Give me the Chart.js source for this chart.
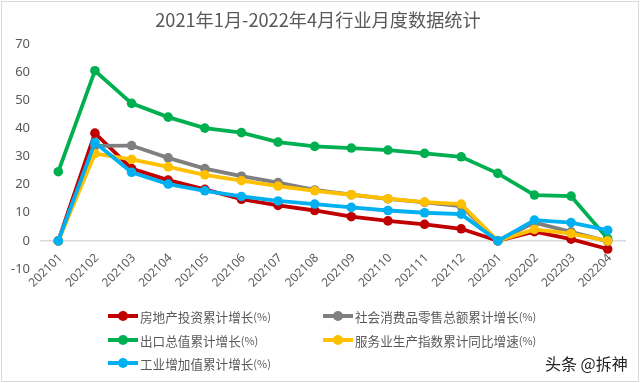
<!DOCTYPE html>
<html>
<head>
<meta charset="utf-8">
<script src="https://cdn.jsdelivr.net/npm/chart.js@4/dist/chart.umd.min.js"></script>
<style>
  html, body { margin: 0; padding: 0; background: #fff; }
  #wrap { position: relative; width: 640px; height: 383px; background: #fff; overflow: hidden; }
  #frame { position: absolute; left: 1px; top: 1px; width: 636px; height: 379px; border: 1px solid #d9d9d9; pointer-events: none; }
  #title { position: absolute; left: 0; top: 6px; width: 636px; text-align: center;
           font-family: "Noto Sans CJK SC", sans-serif; font-size: 18.2px; color: #595959; }
  .lg { position: absolute; height: 16px; display: flex; align-items: center;
        font-family: "Noto Sans CJK SC", sans-serif; font-size: 12.6px; color: #595959; white-space: nowrap; }
  .lg .mk { position: relative; width: 30px; height: 4px; margin-right: 2px; }
  .lg .mk i { position: absolute; left: 10px; top: -3px; width: 10px; height: 10px; border-radius: 50%; }
  .lg .pc { font-size: 11px; }
  #wm { position: absolute; left: 545px; top: 351px; font-family: "Noto Sans CJK SC", sans-serif;
        font-size: 16px; color: #222; }
  canvas { position: absolute; left: 0; top: 0; }
</style>
</head>
<body>
<div id="wrap">
  <canvas id="c" width="640" height="383"></canvas>
  <div id="title">2021年1月-2022年4月行业月度数据统计</div>
  <div id="legend"></div>
  <div id="wm">头条 @拆神</div>
  <div id="frame"></div>
</div>
<script>
const months = ['202101','202102','202103','202104','202105','202106','202107','202108',
                '202109','202110','202111','202112','202201','202202','202203','202204'];
const seriesNames = ['房地产投资累计增长(%)','社会消费品零售总额累计增长(%)','出口总值累计增长(%)',
                     '服务业生产指数累计同比增速(%)','工业增加值累计增长(%)'];
const realEstate = [0, 38.3, 25.7, 21.6, 18.3, 14.8, 12.6, 10.8, 8.6, 7.1, 5.9, 4.3, 0, 3.3, 0.6, -2.9];
const retail     = [0, 33.8, 33.9, 29.5, 25.7, 23.0, 20.7, 18.1, 16.4, 14.9, 13.7, 12.4, 0, 6.5, 3.2, -0.2];
const exportsArr = [24.6, 60.5, 48.9, 44.0, 40.1, 38.5, 35.1, 33.6, 33.0, 32.3, 31.1, 29.9, 24.0, 16.3, 15.9, 0.8];
const services   = [0, 31.0, 29.0, 26.3, 23.5, 21.4, 19.5, 17.8, 16.4, 15.0, 13.8, 13.1, 0, 4.1, 2.6, 0];
const industry   = [0, 35.0, 24.4, 20.2, 17.8, 15.8, 14.2, 13.1, 11.9, 10.8, 10.0, 9.5, 0, 7.4, 6.5, 3.8];
const yTicks = [-10, 0, 10, 20, 30, 40, 50, 60, 70];

const colors = ['#C00000', '#7F7F7F', '#00B050', '#FFC000', '#00B0F0'];
const values = [realEstate, retail, exportsArr, services, industry];

const datasets = values.map((v, i) => ({
  label: seriesNames[i],
  data: v,
  borderColor: colors[i],
  backgroundColor: colors[i],
  borderWidth: 3.8,
  pointRadius: 4.8,
  pointBorderWidth: 0,
  pointBackgroundColor: colors[i],
  tension: 0,
  order: 4 - i
}));

// category labels drawn at the x scale's tick positions, rotated like the reference
const xLabelPlugin = {
  id: 'xLabels',
  afterDraw(chart) {
    const ctx = chart.ctx, xs = chart.scales.x;
    ctx.save();
    ctx.fillStyle = '#595959';
    ctx.font = '12px "Noto Sans", sans-serif';
    ctx.textAlign = 'right';
    ctx.textBaseline = 'middle';
    months.forEach((m, i) => {
      const px = xs.getPixelForValue(i);
      ctx.save();
      ctx.translate(px + 2, 256);
      ctx.rotate(-Math.PI / 4);
      ctx.fillText(m, 0, 0);
      ctx.restore();
    });
    ctx.restore();
  }
};

new Chart(document.getElementById('c'), {
  type: 'line',
  data: { labels: months, datasets },
  plugins: [xLabelPlugin],
  options: {
    responsive: false,
    animation: false,
    devicePixelRatio: 1,
    layout: { padding: { top: 44, left: 0, right: 14, bottom: 114 } },
    plugins: { legend: { display: false }, title: { display: false }, tooltip: { enabled: false } },
    scales: {
      x: {
        offset: true,
        grid: { display: false, drawTicks: false },
        border: { display: false },
        ticks: { display: false }
      },
      y: {
        min: -10, max: 70,
        afterBuildTicks: s => { s.ticks = yTicks.map(v => ({ value: v })); },
        afterFit: s => { s.width = 40; },
        grid: {
          drawTicks: false,
          color: c => (c.tick && c.tick.value === 0 ? '#d9d9d9' : 'rgba(0,0,0,0)'),
          lineWidth: 1.5
        },
        border: { display: false },
        ticks: {
          padding: 10, color: '#595959',
          font: { family: '"Noto Sans", sans-serif', size: 13 }
        }
      }
    }
  }
});

// legend built from the series names and colours
const pos = [[108, 308], [323, 308], [108, 332], [323, 332], [108, 355]];
const lg = document.getElementById('legend');
seriesNames.forEach((n, k) => {
  const d = document.createElement('div');
  d.className = 'lg';
  d.style.left = pos[k][0] + 'px';
  d.style.top = pos[k][1] + 'px';
  const name = n.replace('(%)', '');
  d.innerHTML = '<span class="mk" style="background:' + colors[k] + '"><i style="background:' + colors[k] +
    '"></i></span><span>' + name + '</span><span class="pc">(%)</span>';
  lg.appendChild(d);
});
</script>
</body>
</html>
